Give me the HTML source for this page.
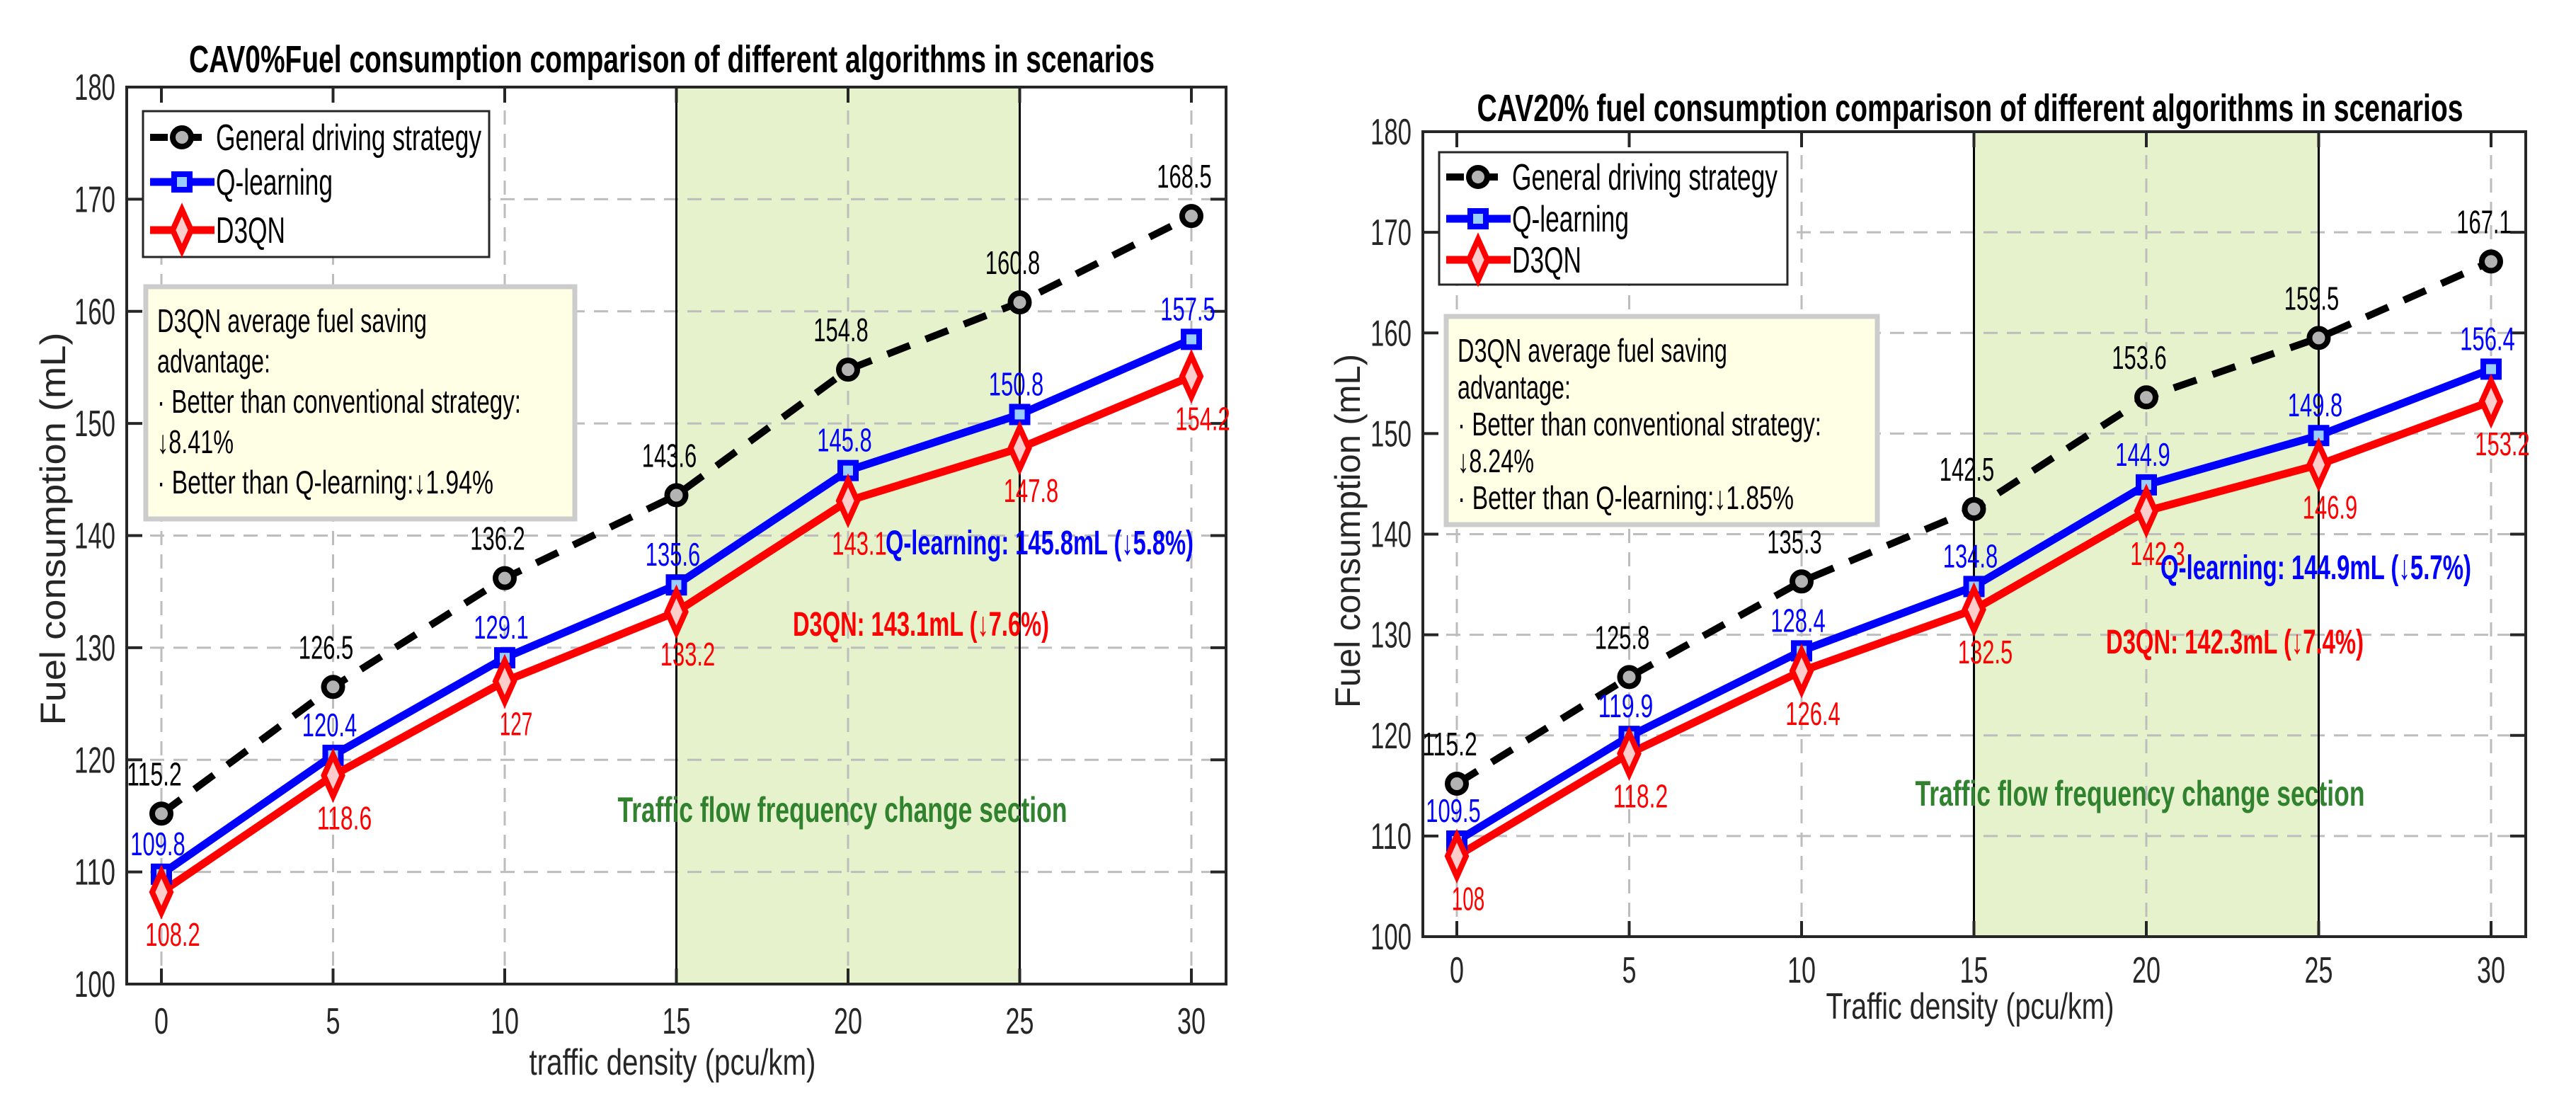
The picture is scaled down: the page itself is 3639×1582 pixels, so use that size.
<!DOCTYPE html>
<html><head><meta charset="utf-8">
<style>
html,body{margin:0;padding:0;background:#fff;}
svg{display:block;}
text{font-family:"Liberation Sans Narrow","Liberation Sans",sans-serif;}
</style></head>
<body>
<svg id="fig" width="3639" height="1582" viewBox="0 0 3639 1582" xmlns="http://www.w3.org/2000/svg"></svg>
<script>
const categories = [0, 5, 10, 15, 20, 25, 30];
const xTickLabels = ["0","5","10","15","20","25","30"];
const yTickValues = [100,110,120,130,140,150,160,170,180];
const generalA = [115.2,126.5,136.2,143.6,154.8,160.8,168.5];
const qlearnA  = [109.8,120.4,129.1,135.6,145.8,150.8,157.5];
const d3qnA    = [108.2,118.6,127,133.2,143.1,147.8,154.2];
const generalB = [115.2,125.8,135.3,142.5,153.6,159.5,167.1];
const qlearnB  = [109.5,119.9,128.4,134.8,144.9,149.8,156.4];
const d3qnB    = [108,118.2,126.4,132.5,142.3,146.9,153.2];
const bandRange = [15, 25];

const NS = "http://www.w3.org/2000/svg";
const svg = document.getElementById('fig');
function mk(tag, attrs, parent, txt){
  const e = document.createElementNS(NS, tag);
  for (const k in attrs) e.setAttribute(k, attrs[k]);
  if (txt !== undefined) e.textContent = txt;
  (parent||svg).appendChild(e);
  return e;
}

function drawChart(cfg){
  const g = mk('g', {});
  
  
  const L=cfg.L,R=cfg.R,T=cfg.T,B=cfg.B,x0=cfg.x0,x30=cfg.x30;
  const xs = v => x0 + (v - 0) / 30 * (x30 - x0);
  const ys = v => B - (v - 100) / 80 * (B - T);

  const band = mk('rect', {x:xs(bandRange[0]), y:T, width:xs(bandRange[1])-xs(bandRange[0]), height:B-T, fill:'#e5f2cc'}, g);
  
  

  const grid = mk('g', {stroke:'#bdbdbd','stroke-width':3,'stroke-dasharray':'20,13'}, g);
  
  
  yTickValues.forEach(v => { if (v>100 && v<180) mk('line',{x1:L,x2:R,y1:ys(v),y2:ys(v)},grid); });
  categories.forEach(c => mk('line',{x1:xs(c),x2:xs(c),y1:T,y2:B},grid));

  bandRange.forEach(b => {
    const ln = mk('line',{x1:xs(b),x2:xs(b),y1:T,y2:B,stroke:'#000','stroke-width':3},g);
    
    
  });

  const ax = mk('g', {stroke:'#262626','stroke-width':4, fill:'none'}, g);
  
  
  mk('rect',{x:L,y:T,width:R-L,height:B-T},ax);
  categories.forEach(c => { mk('line',{x1:xs(c),x2:xs(c),y1:B,y2:B-22},ax); mk('line',{x1:xs(c),x2:xs(c),y1:T,y2:T+22},ax); });
  yTickValues.forEach(v => { mk('line',{x1:L,x2:L+22,y1:ys(v),y2:ys(v)},ax); mk('line',{x1:R,x2:R-22,y1:ys(v),y2:ys(v)},ax); });

  yTickValues.forEach(v => {
    const t = mk('text',{x:L-16,y:ys(v)+18,'font-size':52,fill:'#262626','text-anchor':'end',textLength:58,lengthAdjust:'spacingAndGlyphs'},g,String(v));
    
    
  });
  categories.forEach((c,i) => {
    const s = xTickLabels[i];
    const t = mk('text',{x:xs(c),y:cfg.xtickY+18,'font-size':52,fill:'#262626','text-anchor':'middle',textLength:s.length*20,lengthAdjust:'spacingAndGlyphs'},g,s);
    
    
  });

  let t = mk('text',{x:cfg.titleX,y:cfg.titleY+19,'font-size':54,'font-weight':'bold',fill:'#000','text-anchor':'middle',textLength:cfg.titleW,lengthAdjust:'spacingAndGlyphs'},g,cfg.title);
  
  
  t = mk('text',{x:cfg.xlabX,y:cfg.xlabY+18,'font-size':52,fill:'#262626','text-anchor':'middle',textLength:cfg.xlabW,lengthAdjust:'spacingAndGlyphs'},g,cfg.xlab);
  
  
  t = mk('text',{x:0,y:0,'font-size':50,fill:'#262626','text-anchor':'middle',textLength:cfg.ylabW,lengthAdjust:'spacingAndGlyphs',transform:`translate(${cfg.ylabX+17},${cfg.ylabY}) rotate(-90)`,style:'font-family:"Liberation Sans",sans-serif'},g,'Fuel consumption (mL)');
  
  

  const mkPath = arr => arr.map((v,i)=>(i?'L':'M')+xs(categories[i])+','+ys(v)).join(' ');
  let p = mk('path',{d:mkPath(cfg.gen),fill:'none',stroke:'#000','stroke-width':10,'stroke-dasharray':'34,24'},g);
  
  
  p = mk('path',{d:mkPath(cfg.q),fill:'none',stroke:'#0000ff','stroke-width':11},g);
  
  
  p = mk('path',{d:mkPath(cfg.d),fill:'none',stroke:'#ff0000','stroke-width':11},g);
  
  

  const fmtW = s => s.length*15.5;
  cfg.gen.forEach((v,i) => {
    const m = mk('circle',{cx:xs(categories[i]),cy:ys(v),r:13,fill:'#b3b3b3',stroke:'#000','stroke-width':8},g);
    
    
    const s=String(v);
    const l = mk('text',{x:xs(categories[i])-10,y:ys(v)-40,'font-size':46,fill:'#000','text-anchor':'middle',textLength:fmtW(s),lengthAdjust:'spacingAndGlyphs'},g,s);
    
    
  });
  cfg.q.forEach((v,i) => {
    const cx=xs(categories[i]), cy=ys(v);
    const m = mk('rect',{x:cx-11,y:cy-11,width:22,height:22,fill:'#99ccff',stroke:'#0000ff','stroke-width':8},g);
    
    
    const s=String(v);
    const l = mk('text',{x:cx-5,y:cy-27,'font-size':46,fill:'#0000ff','text-anchor':'middle',textLength:fmtW(s),lengthAdjust:'spacingAndGlyphs'},g,s);
    
    
  });
  cfg.d.forEach((v,i) => {
    const cx=xs(categories[i]), cy=ys(v);
    const m = mk('polygon',{points:`${cx},${cy-29} ${cx+13},${cy} ${cx},${cy+29} ${cx-13},${cy}`,fill:'#ffcccc',stroke:'#ff0000','stroke-width':8},g);
    
    
    const s=String(v);
    const l = mk('text',{x:cx+16,y:cy+76,'font-size':46,fill:'#ff0000','text-anchor':'middle',textLength:fmtW(s),lengthAdjust:'spacingAndGlyphs'},g,s);
    
    
  });

  t = mk('text',{x:cfg.bandLX,y:cfg.bandLY+18,'font-size':50,'font-weight':'bold',fill:'#31822f','text-anchor':'middle',textLength:cfg.bandLW,lengthAdjust:'spacingAndGlyphs'},g,'Traffic flow frequency change section');
  
  
  t = mk('text',{x:cfg.qaX,y:cfg.qaY+18,'font-size':48,'font-weight':'bold',fill:'#0000ff',textLength:cfg.qaW,lengthAdjust:'spacingAndGlyphs'},g,cfg.qaText);
  
  
  t = mk('text',{x:cfg.daX,y:cfg.daY+18,'font-size':48,'font-weight':'bold',fill:'#ff0000',textLength:cfg.daW,lengthAdjust:'spacingAndGlyphs'},g,cfg.daText);
  
  

  const lg = mk('g',{},g);
  
  
  mk('rect',{x:cfg.lgX,y:cfg.lgY,width:cfg.lgW,height:cfg.lgH,fill:'#fff',stroke:'#262626','stroke-width':3},lg);
  const lx = cfg.lgX+10, rows=cfg.lgRows;
  mk('line',{x1:lx,x2:lx+25,y1:rows[0],y2:rows[0],stroke:'#000','stroke-width':10},lg);
  mk('line',{x1:lx+45,x2:lx+73,y1:rows[0],y2:rows[0],stroke:'#000','stroke-width':10},lg);
  mk('circle',{cx:lx+45,cy:rows[0],r:13,fill:'#b3b3b3',stroke:'#000','stroke-width':8},lg);
  mk('line',{x1:lx,x2:lx+91,y1:rows[1],y2:rows[1],stroke:'#0000ff','stroke-width':11},lg);
  mk('rect',{x:lx+34,y:rows[1]-11,width:22,height:22,fill:'#99ccff',stroke:'#0000ff','stroke-width':8},lg);
  mk('line',{x1:lx,x2:lx+91,y1:rows[2],y2:rows[2],stroke:'#ff0000','stroke-width':11},lg);
  mk('polygon',{points:`${lx+45},${rows[2]-29} ${lx+58},${rows[2]} ${lx+45},${rows[2]+29} ${lx+32},${rows[2]}`,fill:'#ffcccc',stroke:'#ff0000','stroke-width':8},lg);
  const lt = cfg.lgX+103;
  [['General driving strategy',375],['Q-learning',165],['D3QN',98]].forEach((e,i)=>{
    const tt = mk('text',{x:lt,y:rows[i]+18,'font-size':52,fill:'#000',textLength:e[1],lengthAdjust:'spacingAndGlyphs'},lg,e[0]);
    
    
  });

  const bx = mk('g',{},g);
  
  
  mk('rect',{x:cfg.bxX,y:cfg.bxY,width:cfg.bxW,height:cfg.bxH,fill:'#ffffe6',stroke:'#cccccc','stroke-width':7},bx);
  cfg.bxLines.forEach((ln,i)=>{
    const tt = mk('text',{x:cfg.bxX+16,y:cfg.bxY+64+i*cfg.bxStep,'font-size':46,fill:'#000',textLength:ln[1],lengthAdjust:'spacingAndGlyphs'},bx,ln[0]);
    
    
  });
}

drawChart({id:'cav0', L:179,R:1732,T:123,B:1390,x0:228,x30:1683, xtickY:1442,
  title:'CAV0%Fuel consumption comparison of different algorithms in scenarios', titleX:949,titleY:83,titleW:1364,
  xlab:'traffic density  (pcu/km)', xlabX:950,xlabY:1500,xlabW:405, ylabX:75,ylabY:747,ylabW:555,
  gen:generalA,q:qlearnA,d:d3qnA,
  bandLX:1190,bandLY:1143,bandLW:635,
  qaText:'Q-learning: 145.8mL (↓5.8%)',qaX:1251,qaY:765,qaW:435,
  daText:'D3QN: 143.1mL (↓7.6%)',daX:1120,daY:880,daW:362,
  lgX:202,lgY:157,lgW:489,lgH:206,lgRows:[194,257,325],
  bxX:206,bxY:405,bxW:606,bxH:328,bxStep:57,
  bxLines:[['D3QN average fuel saving',381],['advantage:',160],['· Better than conventional strategy:',514],['↓8.41%',108],['· Better than Q-learning:↓1.94%',475]]
});
drawChart({id:'cav20', L:2010,R:3568,T:186,B:1323,x0:2058,x30:3519, xtickY:1370,
  title:'CAV20% fuel consumption comparison of different algorithms in scenarios', titleX:2783,titleY:152,titleW:1393,
  xlab:'Traffic density (pcu/km)', xlabX:2783,xlabY:1421,xlabW:407, ylabX:1904,ylabY:750,ylabW:500,
  gen:generalB,q:qlearnB,d:d3qnB,
  bandLX:3023,bandLY:1120,bandLW:635,
  qaText:'Q-learning: 144.9mL (↓5.7%)',qaX:3052,qaY:800,qaW:439,
  daText:'D3QN: 142.3mL (↓7.4%)',daX:2975,daY:905,daW:364,
  lgX:2033,lgY:215,lgW:492,lgH:187,lgRows:[250,309,367],
  bxX:2043,bxY:447,bxW:609,bxH:294,bxStep:52,
  bxLines:[['D3QN average fuel saving',381],['advantage:',160],['· Better than conventional strategy:',514],['↓8.24%',108],['· Better than Q-learning:↓1.85%',475]]
});
</script>
</body></html>
